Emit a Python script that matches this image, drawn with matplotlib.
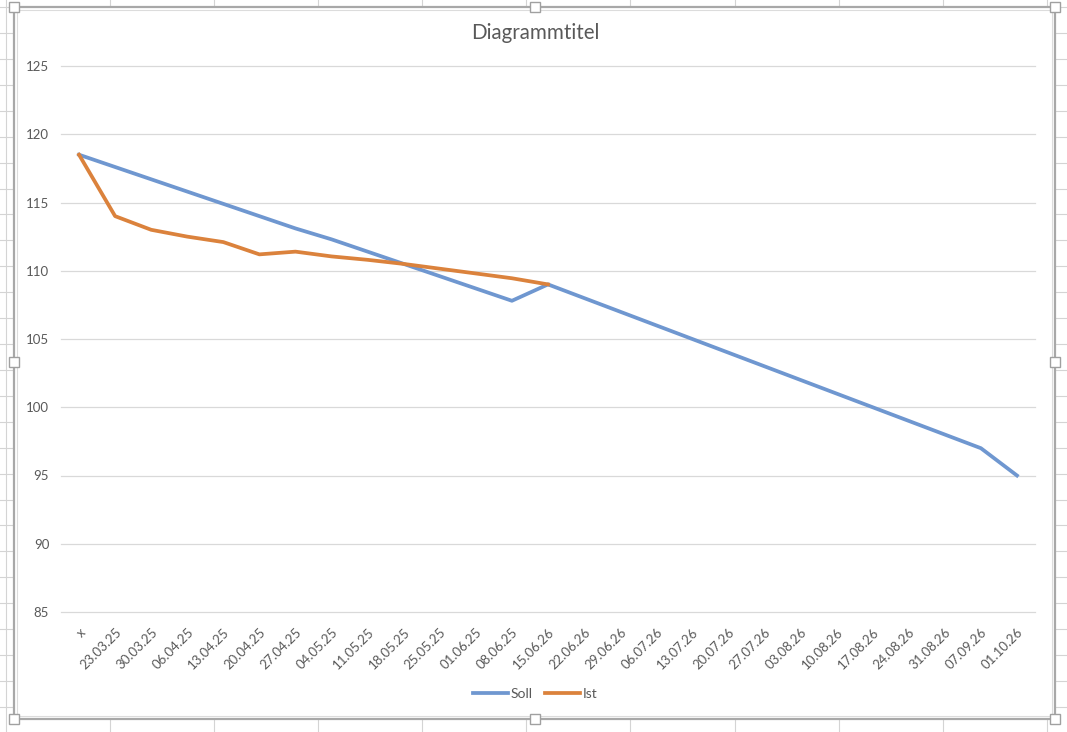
import matplotlib.pyplot as plt
from matplotlib.patches import Rectangle

# chart data
dates = ['x', '23.03.25', '30.03.25', '06.04.25', '13.04.25', '20.04.25', '27.04.25',
         '04.05.25', '11.05.25', '18.05.25', '25.05.25', '01.06.25', '08.06.25',
         '15.06.26', '22.06.26', '29.06.26', '06.07.26', '13.07.26', '20.07.26',
         '27.07.26', '03.08.26', '10.08.26', '17.08.26', '24.08.26', '31.08.26',
         '07.09.26', '01.10.26']
soll = [118.5, 117.6, 116.7, 115.8, 114.9, 114.0, 113.1, 112.3, 111.4, 110.5,
        109.6, 108.7, 107.8, 109.0, 108.0, 107.0, 106.0, 105.0, 104.0, 103.0,
        102.0, 101.0, 100.0, 99.0, 98.0, 97.0, 95.0]
ist = [118.5, 114.0, 113.0, 112.5, 112.1, 111.2, 111.4, 111.05, 110.8, 110.5,
       110.15, 109.8, 109.45, 109.0]
y_ticks = [85, 90, 95, 100, 105, 110, 115, 120, 125]

W, H = 1067, 732
text_col = '#595959'
plt.rcParams['font.family'] = ['Lato', 'DejaVu Sans']

fig = plt.figure(figsize=(W / 100, H / 100), dpi=100)

# spreadsheet background with the chart frame (pixel coordinates)
bg = fig.add_axes([0, 0, 1, 1], zorder=0)
bg.set_xlim(0, W)
bg.set_ylim(H, 0)
bg.axis('off')
for k in range(11):
    bg.axvline(110 + 104.1 * k - 104.1, color='#d4d4d4', lw=0.8)
for k in range(-2, 30):
    bg.axhline(33 + 25.92 * k, color='#d4d4d4', lw=0.8)
bg.add_patch(Rectangle((14, 7), 1041, 712, facecolor='white', edgecolor='#a8a8a8', lw=1.6, zorder=2))
bg.add_patch(Rectangle((17, 10), 1035, 706, facecolor='none', edgecolor='#dcdcdc', lw=0.8, zorder=2))
for hx, hy in [(14, 7), (535, 7), (1055, 7), (14, 362), (1055, 362), (14, 719), (535, 719), (1055, 719)]:
    bg.add_patch(Rectangle((hx - 5, hy - 5), 10, 10, facecolor='white', edgecolor='#a0a0a0', lw=1, zorder=3))

ax = fig.add_axes([61 / W, 1 - 612 / H, (1035 - 61) / W, (612 - 66) / H], zorder=1)
ax.patch.set_alpha(0)

x = list(range(len(dates)))
ax.plot(x, soll, color='#6f97d0', lw=2.7, label='Soll', solid_joinstyle='round', zorder=3)
ax.plot(x[:len(ist)], ist, color='#db823c', lw=2.7, label='Ist', solid_joinstyle='round', zorder=4)

ax.set_xlim(-0.5, len(dates) - 0.5)
ax.set_ylim(85, 125)
ax.set_yticks(y_ticks)
ax.yaxis.grid(True, color='#d9d9d9', lw=0.9)
for gl in ax.get_ygridlines():
    gl.set_clip_on(False)
ax.set_axisbelow(True)
for s in ax.spines.values():
    s.set_visible(False)
ax.tick_params(axis='both', length=0, colors=text_col, labelsize=9.5)
ax.tick_params(axis='y', pad=8.5)
ax.set_xticks(x)
ax.set_xticklabels(dates, rotation=45, ha='right', va='top', rotation_mode='anchor')
ax.tick_params(axis='x', pad=10)

fig.text(535 / W, 1 - 33 / H, 'Diagrammtitel', ha='center', va='center', fontsize=14.8, color=text_col)

fig.legend(loc='center', bbox_to_anchor=(535 / W, 1 - 694 / H), ncol=2, frameon=False,
           fontsize=10, handlelength=2.5, handletextpad=0.2, columnspacing=0.9, labelcolor=text_col)

fig.savefig('out.png', dpi=100)
